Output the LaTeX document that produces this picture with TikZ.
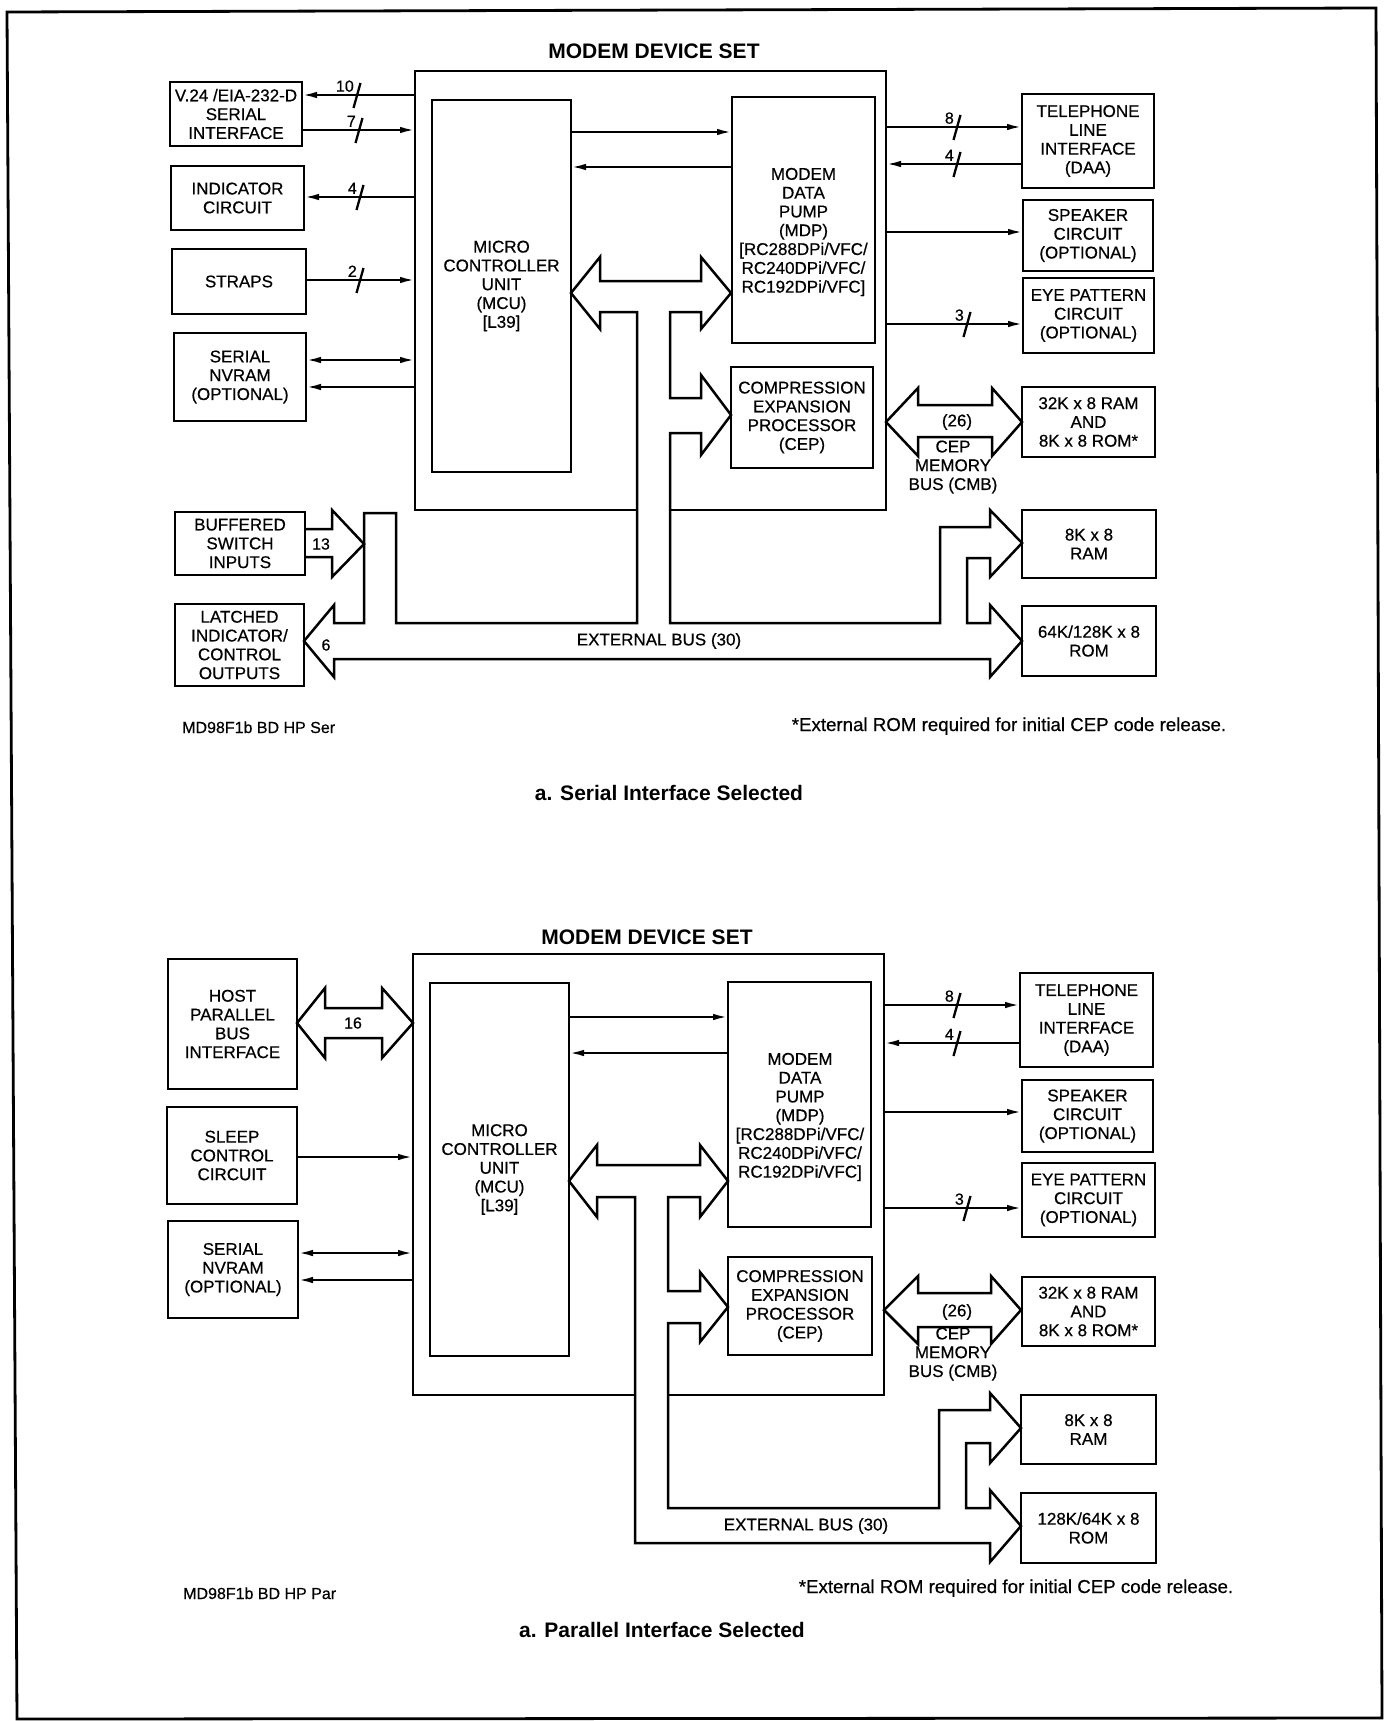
\documentclass[tikz,border=0pt]{standalone}
\usepackage{fontspec}
\setmainfont{Liberation Sans}
\newfontfamily\medfont[FakeBold=0.5]{Liberation Sans}
\usetikzlibrary{arrows.meta}
\begin{document}
\begin{tikzpicture}[x=1pt,y=-1pt,
  blk/.style={draw, line width=2.8pt, inner sep=0pt, outer sep=0pt, align=center, font=\medfont\fontsize{17}{18.8}\selectfont},
  txt/.style={inner sep=0pt, align=center, font=\medfont\fontsize{17}{18.8}\selectfont},
  sig/.style={line width=2.3pt},
  bus/.style={line width=2.5pt, line join=miter},
  frm/.style={line width=2.8pt},
  wlab/.style={inner sep=0pt, font=\medfont\fontsize{16}{16}\selectfont},
  ttl/.style={inner sep=0pt, font=\fontsize{21}{24}\selectfont\bfseries},
  capt/.style={inner sep=0pt, font=\fontsize{21}{24}\selectfont\bfseries},
  note/.style={inner sep=0pt, font=\medfont\fontsize{16}{18}\selectfont},
  fnote/.style={inner sep=0pt, font=\medfont\fontsize{18.7}{20}\selectfont},
  blab/.style={inner sep=0pt, font=\medfont\fontsize{16}{18}\selectfont},
  outer/.style={inner sep=0pt, outer sep=0pt},
  >={Latex[length=15pt,width=6.5pt]},
  pics/busw/.style={code={\draw[sig] (-3.5,13) -- (3.5,-12); \node[wlab, anchor=south east] at (-3,-3) {#1};}}
]
\useasboundingbox (0,0) rectangle (1385,1721);
\draw[frm] (7,12) -- (1376,8) -- (1382,1718) -- (17,1719) -- cycle;

% ================= TOP DIAGRAM =================
\node[ttl] (t1) at (654,51) {MODEM DEVICE SET};
\node[outer, minimum width=471pt, minimum height=439pt] (ob1) at (650.5,290.5) {};
\draw[frm] (637,510) -| (ob1.north west) -| (ob1.south east) -- (670,510);

\node[blk, minimum width=132pt, minimum height=64pt] (v24) at (236,114) {V.24 /EIA-232-D\\SERIAL\\INTERFACE};
\node[blk, minimum width=133pt, minimum height=64pt] (ind) at (237.5,198) {INDICATOR\\CIRCUIT};
\node[blk, minimum width=134pt, minimum height=65pt] (straps) at (239,281.5) {STRAPS};
\node[blk, minimum width=132pt, minimum height=88pt] (nvr1) at (240,377) {SERIAL\\NVRAM\\(OPTIONAL)};
\node[blk, minimum width=139pt, minimum height=372pt] (mcu1) at (501.5,286) {MICRO\\CONTROLLER\\UNIT\\(MCU)\\{[L39]}};
\node[blk, minimum width=143pt, minimum height=246pt] (mdp1) at (803.5,220) {};
\node[txt] (mdp1t) at (803.5,232) {MODEM\\DATA\\PUMP\\(MDP)\\{[RC288DPi/VFC/}\\RC240DPi/VFC/\\RC192DPi/VFC]};
\node[blk, minimum width=142pt, minimum height=101pt] (cep1) at (802,417.5) {COMPRESSION\\EXPANSION\\PROCESSOR\\(CEP)};
\node[blk, minimum width=132pt, minimum height=94pt] (tel1) at (1088,141) {TELEPHONE\\LINE\\INTERFACE\\(DAA)};
\node[blk, minimum width=130pt, minimum height=71pt] (spk1) at (1088,235.5) {SPEAKER\\CIRCUIT\\(OPTIONAL)};
\node[blk, minimum width=131pt, minimum height=75pt] (eye1) at (1088.5,315.5) {EYE PATTERN\\CIRCUIT\\(OPTIONAL)};
\node[blk, minimum width=133pt, minimum height=70pt] (mem1) at (1088.5,422) {32K x 8 RAM\\AND\\8K x 8 ROM*};
\node[blk, minimum width=130pt, minimum height=63pt] (buf) at (240,543.5) {BUFFERED\\SWITCH\\INPUTS};
\node[blk, minimum width=129pt, minimum height=82pt] (lat) at (239.5,645) {LATCHED\\INDICATOR/\\CONTROL\\OUTPUTS};
\node[blk, minimum width=134pt, minimum height=68pt] (ram1) at (1089,544) {8K x 8\\RAM};
\node[blk, minimum width=134pt, minimum height=70pt] (rom1) at (1089,641) {64K/128K x 8\\ROM};

% signal lines
\draw[sig,->] (ob1.west |- 0,95) -- (v24.east |- 0,95);
\pic at (357,95) {busw=10};
\draw[sig,->] (v24.east |- 0,130) -- (ob1.west |- 0,130);
\pic at (359,130) {busw=7};
\draw[sig,->] (ob1.west |- 0,197) -- (ind.east |- 0,197);
\pic at (360,197) {busw=4};
\draw[sig,->] (straps.east |- 0,280) -- (ob1.west |- 0,280);
\pic at (360,280) {busw=2};
\draw[sig,<->] (nvr1.east |- 0,360) -- (ob1.west |- 0,360);
\draw[sig,->] (ob1.west |- 0,387) -- (nvr1.east |- 0,387);
\draw[sig,->] (mcu1.east |- 0,132) -- (mdp1.west |- 0,132);
\draw[sig,->] (mdp1.west |- 0,167) -- (mcu1.east |- 0,167);
\draw[sig,->] (ob1.east |- 0,127) -- (tel1.west |- 0,127);
\pic at (957,127) {busw=8};
\draw[sig,->] (tel1.west |- 0,164) -- (ob1.east |- 0,164);
\pic at (957,164) {busw=4};
\draw[sig,->] (ob1.east |- 0,232) -- (spk1.west |- 0,232);
\draw[sig,->] (ob1.east |- 0,324) -- (eye1.west |- 0,324);
\pic at (967,324) {busw=3};

% buses
\draw[bus] (571,293) -- (600,257) -- (600,281) -- (701,281) -- (701,257) -- (731,293) -- (701,329) -- (701,312)
  -- (670,312) -- (670,398) -- (701,398) -- (701,375) -- (731,415) -- (701,455) -- (701,433) -- (670,433)
  -- (670,623) -- (940,623) -- (940,527) -- (990,527) -- (990,510) -- (1022,543) -- (990,577) -- (990,558)
  -- (967,558) -- (967,623) -- (990,623) -- (990,605) -- (1022,641) -- (990,677) -- (990,659)
  -- (334,659) -- (334,677) -- (304,641) -- (334,605) -- (334,623) -- (364,623) -- (364,513) -- (396,513)
  -- (396,623) -- (637,623) -- (637,312) -- (600,312) -- (600,329) -- cycle;
\draw[bus] (buf.east |- 0,529) -- (332,529) -- (332,510) -- (364,544) -- (332,577) -- (332,557) -- (buf.east |- 0,557);
\draw[bus] (886,422) -- (918,388) -- (918,405) -- (992,405) -- (992,388) -- (1022,422) -- (992,456) -- (992,437)
  -- (918,437) -- (918,456) -- cycle;

\node[blab] (l13) at (321,544) {13};
\node[blab] (l6) at (326,645) {6};
\node[txt] (l26a) at (957,422) {(26)};
\node[txt] (cmb1) at (953,467) {CEP\\MEMORY\\BUS (CMB)};
\node[txt] (eb1) at (659,641) {EXTERNAL BUS (30)};

\node[note, anchor=base west] (id1) at (182,733) {MD98F1b BD HP Ser};
\node[fnote, anchor=base] (fn1) at (1009,731) {*External ROM required for initial CEP code release.};
\node[capt, anchor=base] (cap1) at (669,800) {a. Serial Interface Selected};

% ================= BOTTOM DIAGRAM =================
\node[ttl] (t2) at (647,937) {MODEM DEVICE SET};
\node[outer, minimum width=471pt, minimum height=441pt] (ob2) at (648.5,1174.5) {};
\draw[frm] (635,1395) -| (ob2.north west) -| (ob2.south east) -- (668,1395);

\node[blk, minimum width=129pt, minimum height=130pt] (host) at (232.5,1024) {HOST\\PARALLEL\\BUS\\INTERFACE};
\node[blk, minimum width=130pt, minimum height=97pt] (sleep) at (232,1155.5) {SLEEP\\CONTROL\\CIRCUIT};
\node[blk, minimum width=130pt, minimum height=97pt] (nvr2) at (233,1269.5) {SERIAL\\NVRAM\\(OPTIONAL)};
\node[blk, minimum width=139pt, minimum height=373pt] (mcu2) at (499.5,1169.5) {MICRO\\CONTROLLER\\UNIT\\(MCU)\\{[L39]}};
\node[blk, minimum width=143pt, minimum height=245pt] (mdp2) at (799.5,1104.5) {};
\node[txt] (mdp2t) at (800,1117) {MODEM\\DATA\\PUMP\\(MDP)\\{[RC288DPi/VFC/}\\RC240DPi/VFC/\\RC192DPi/VFC]};
\node[blk, minimum width=144pt, minimum height=98pt] (cep2) at (800,1306) {COMPRESSION\\EXPANSION\\PROCESSOR\\(CEP)};
\node[blk, minimum width=133pt, minimum height=94pt] (tel2) at (1086.5,1020) {TELEPHONE\\LINE\\INTERFACE\\(DAA)};
\node[blk, minimum width=131pt, minimum height=72pt] (spk2) at (1087.5,1116) {SPEAKER\\CIRCUIT\\(OPTIONAL)};
\node[blk, minimum width=133pt, minimum height=74pt] (eye2) at (1088.5,1200) {EYE PATTERN\\CIRCUIT\\(OPTIONAL)};
\node[blk, minimum width=133pt, minimum height=69pt] (mem2) at (1088.5,1311.5) {32K x 8 RAM\\AND\\8K x 8 ROM*};
\node[blk, minimum width=135pt, minimum height=69pt] (ram2) at (1088.5,1429.5) {8K x 8\\RAM};
\node[blk, minimum width=135pt, minimum height=70pt] (rom2) at (1088.5,1528) {128K/64K x 8\\ROM};

\draw[sig,->] (sleep.east |- 0,1157) -- (ob2.west |- 0,1157);
\draw[sig,<->] (nvr2.east |- 0,1253) -- (ob2.west |- 0,1253);
\draw[sig,->] (ob2.west |- 0,1280) -- (nvr2.east |- 0,1280);
\draw[sig,->] (mcu2.east |- 0,1017) -- (mdp2.west |- 0,1017);
\draw[sig,->] (mdp2.west |- 0,1053) -- (mcu2.east |- 0,1053);
\draw[sig,->] (ob2.east |- 0,1005) -- (tel2.west |- 0,1005);
\pic at (957,1005) {busw=8};
\draw[sig,->] (tel2.west |- 0,1043) -- (ob2.east |- 0,1043);
\pic at (957,1043) {busw=4};
\draw[sig,->] (ob2.east |- 0,1112) -- (spk2.west |- 0,1112);
\draw[sig,->] (ob2.east |- 0,1208) -- (eye2.west |- 0,1208);
\pic at (967,1208) {busw=3};

\draw[bus] (host.east |- 0,1023) -- (325,988) -- (325,1008) -- (382,1008) -- (382,988) -- (ob2.west |- 0,1023)
  -- (382,1058) -- (382,1038) -- (325,1038) -- (325,1058) -- cycle;
\node[blab] (l16) at (353,1023) {16};

\draw[bus] (569,1181) -- (597,1145) -- (597,1165) -- (700,1165) -- (700,1145) -- (728,1181) -- (700,1217) -- (700,1197)
  -- (668,1197) -- (668,1291) -- (700,1291) -- (700,1272) -- (728,1307) -- (700,1342) -- (700,1323) -- (668,1323)
  -- (668,1508) -- (939,1508) -- (939,1410) -- (990,1410) -- (990,1393) -- (1021,1428) -- (990,1463) -- (990,1443)
  -- (966,1443) -- (966,1508) -- (990,1508) -- (990,1490) -- (1021,1526) -- (990,1562) -- (990,1543)
  -- (635,1543) -- (635,1197) -- (597,1197) -- (597,1217) -- cycle;
\draw[bus] (884,1310) -- (918,1276) -- (918,1293) -- (991,1293) -- (991,1276) -- (1021,1310) -- (991,1344) -- (991,1327)
  -- (918,1327) -- (918,1344) -- cycle;

\node[txt] (l26b) at (957,1312) {(26)};
\node[txt] (cmb2) at (953,1354) {CEP\\MEMORY\\BUS (CMB)};
\node[txt] (eb2) at (806,1526) {EXTERNAL BUS (30)};

\node[note, anchor=base west] (id2) at (183,1599) {MD98F1b BD HP Par};
\node[fnote, anchor=base] (fn2) at (1016,1593) {*External ROM required for initial CEP code release.};
\node[capt, anchor=base] (cap2) at (662,1637) {a. Parallel Interface Selected};
\end{tikzpicture}
\end{document}
